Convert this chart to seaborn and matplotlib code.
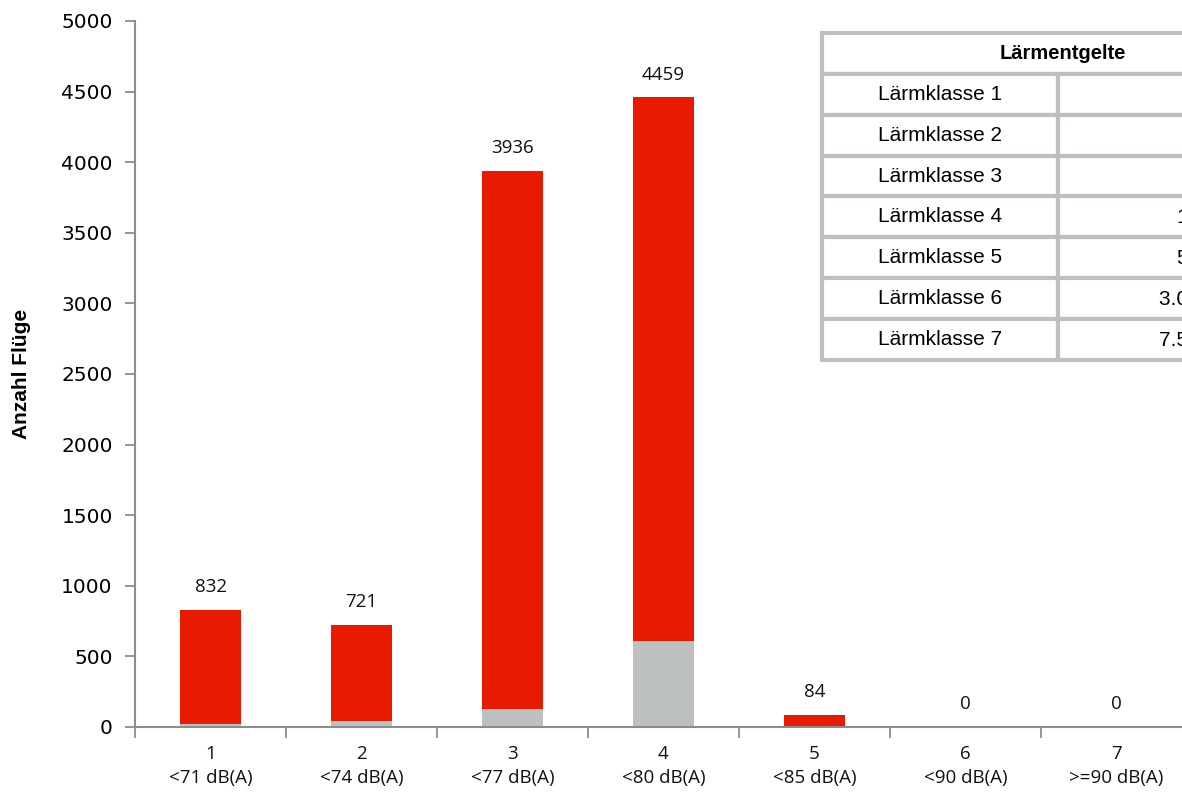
import numpy as np
import pandas as pd
import seaborn as sns
from matplotlib import pyplot as plt
from matplotlib.ticker import FixedLocator

# Daten
klassen = ["1", "2", "3", "4", "5", "6", "7"]
pegel = ["<71 dB(A)", "<74 dB(A)", "<77 dB(A)", "<80 dB(A)", "<85 dB(A)", "<90 dB(A)", ">=90 dB(A)"]
gesamt = [832, 721, 3936, 4459, 84, 0, 0]
grau_anteil = [20, 40, 127, 610, 0, 0, 0]

tabelle_klassen = ["Lärmklasse 1", "Lärmklasse 2", "Lärmklasse 3", "Lärmklasse 4",
                   "Lärmklasse 5", "Lärmklasse 6", "Lärmklasse 7"]
tabelle_entgelte = ["0,00 €", "10,00 €", "50,00 €", "100,00 €", "500,00 €", "3.000,00 €", "7.500,00 €"]

ROT = "#e81a00"
GRAU = "#bcc0c1"
ACHSE = "#8c8c8c"

sns.set_theme(style="white")
plt.rcParams["font.family"] = ["DejaVu Sans"]
plt.rcParams["text.color"] = "black"

df = pd.DataFrame({"klasse": klassen, "gesamt": gesamt, "grau": grau_anteil})

fig = plt.figure(figsize=(11.82, 7.94), dpi=100)
ax = fig.add_axes([135 / 1182, 1 - 727 / 794, 1057 / 1182, 706 / 794])

sns.barplot(data=df, x="klasse", y="gesamt", color=ROT, saturation=1, width=0.4, linewidth=0, ax=ax)
sns.barplot(data=df, x="klasse", y="grau", color=GRAU, saturation=1, width=0.4, linewidth=0, ax=ax)

ax.set_xlim(-0.5, len(klassen) - 0.5)
ax.set_ylim(0, 5000)
ax.set_yticks(np.arange(0, 5001, 500))
ax.tick_params(axis="y", labelsize=14.5, length=7, width=1.3, color=ACHSE, direction="out",
               left=True, pad=9, labelcolor="black")

ax.set_xticks(range(len(klassen)))
ax.set_xticklabels([f"{k}\n{p}" for k, p in zip(klassen, pegel)], family="Open Sans",
                   fontsize=13.5, linespacing=1.4, color="#111111")
ax.tick_params(axis="x", length=0, pad=13)
ax.xaxis.set_minor_locator(FixedLocator(np.arange(-0.5, len(klassen), 1.0)))
ax.tick_params(axis="x", which="minor", length=8, width=1.3, color=ACHSE, direction="out", bottom=True)

for side in ["top", "right"]:
    ax.spines[side].set_visible(False)
for side in ["left", "bottom"]:
    ax.spines[side].set_color(ACHSE)
    ax.spines[side].set_linewidth(1.5)

ax.set_xlabel("")
ax.set_ylabel("Anzahl Flüge", family=["Liberation Sans", "DejaVu Sans"],
              fontweight="bold", fontsize=15, labelpad=22, color="black")

for i, v in enumerate(gesamt):
    ax.annotate(str(v), (i, v), xytext=(0, 10), textcoords="offset points",
                ha="center", va="bottom", family="Open Sans", fontsize=13.5, color="#111111")

# Tabelle Lärmentgelte (rechts angeschnitten)
tab_ax = fig.add_axes([822 / 1182, 1 - 360 / 794, 482 / 1182, 327 / 794])
tab_ax.axis("off")
zellen = [["", ""]] + [[k, e] for k, e in zip(tabelle_klassen, tabelle_entgelte)]
tab = tab_ax.table(cellText=zellen, bbox=[0, 0, 1, 1], colWidths=[236, 246])
tab.auto_set_font_size(False)
for (r, c), cell in tab.get_celld().items():
    cell.set_edgecolor(GRAU)
    cell.set_linewidth(3)
    cell.get_text().set_fontfamily("Liberation Sans")
    cell.get_text().set_fontsize(15)
    cell.get_text().set_color("black")
    if r == 0:
        cell.visible_edges = "BTL" if c == 0 else "BTR"
    elif c == 0:
        cell._loc = "center"
        cell.get_text().set_ha("center")
    else:
        cell._loc = "right"
        cell.get_text().set_ha("right")
        cell.PAD = 0.185
tab_ax.text(0.5, 1 - 0.5 / 8, "Lärmentgelte", transform=tab_ax.transAxes, ha="center", va="center",
            family="Liberation Sans", fontweight="bold", fontsize=14.5, color="black")

fig.savefig("out.png", dpi=100)
